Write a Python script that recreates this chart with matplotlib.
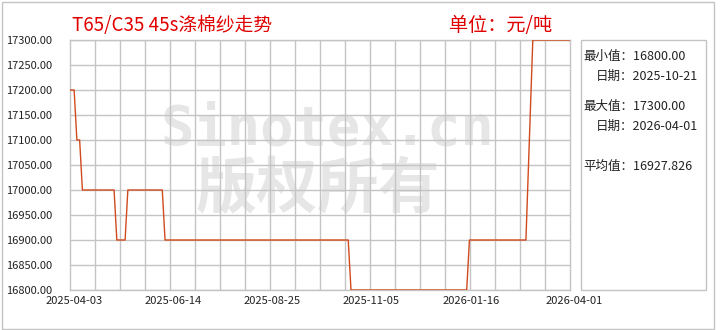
import matplotlib
matplotlib.use("Agg")
import matplotlib.pyplot as plt
import matplotlib.dates as mdates
import matplotlib.transforms as mtransforms
from matplotlib.patches import Rectangle
import numpy as np
import pandas as pd

plt.rcParams['font.family'] = ['Noto Sans CJK SC', 'DejaVu Sans']

# ---- data ----
dates = ["2025-04-03", "2025-04-06", "2025-04-08", "2025-04-10", "2025-04-12",
         "2025-05-05", "2025-05-07", "2025-05-13", "2025-05-15", "2025-06-09",
         "2025-06-11", "2025-10-22", "2025-10-24", "2026-01-16", "2026-01-18",
         "2026-02-28", "2026-03-05", "2026-04-01"]
prices = [17200, 17200, 17100, 17100, 17000,
          17000, 16900, 16900, 17000, 17000,
          16900, 16900, 16800, 16800, 16900,
          16900, 17300, 17300]
tick_dates = ["2025-04-03", "2025-06-14", "2025-08-25", "2025-11-05", "2026-01-16", "2026-04-01"]
y_ticks = [16800, 16850, 16900, 16950, 17000, 17050, 17100, 17150, 17200, 17250, 17300]
title = "T65/C35 45s涤棉纱走势"
unit = "单位：元/吨"
stats_labels = ["最小值：16800.00", "日期：2025-10-21", "最大值：17300.00", "日期：2026-04-01", "平均值：16927.826"]

W, H = 720, 330
fig = plt.figure(figsize=(W / 100, H / 100), dpi=100)
fig.patch.set_facecolor("white")

ax_l, ax_r, ax_t, ax_b = 70, 570, 40, 290
ax = fig.add_axes([ax_l / W, 1 - ax_b / H, (ax_r - ax_l) / W, (ax_b - ax_t) / H])
ax.set_facecolor("white")

x = pd.to_datetime(dates)
ax.plot(x, prices, color="#D04A1C", lw=1.0, zorder=3)

xmin = mdates.date2num(pd.Timestamp(tick_dates[0]))
xmax = mdates.date2num(pd.Timestamp(tick_dates[-1]))
ax.set_xlim(xmin, xmax)
ax.set_ylim(y_ticks[0], y_ticks[-1])

grid_c = "#C4C4C4"
ax.set_yticks(y_ticks)
ax.set_yticklabels([f"{v:.2f}" for v in y_ticks], fontsize=8, color="#222222")
ax.set_xticks([mdates.date2num(pd.Timestamp(d)) for d in tick_dates])
ax.set_xticklabels(tick_dates, fontsize=8, color="#222222")
ax.set_xticks(np.linspace(xmin, xmax, 21), minor=True)
ax.tick_params(axis='both', which='both', length=0)
ax.tick_params(axis='y', pad=13)
ax.tick_params(axis='x', pad=4)
ax.grid(False)
ax.grid(True, which='minor', axis='x', color=grid_c, lw=1.0, zorder=1)
ax.grid(True, which='major', axis='y', color=grid_c, lw=1.0, zorder=1)
ax.set_axisbelow(True)
for s in ax.spines.values():
    s.set_color(grid_c)
    s.set_linewidth(1.0)

offset = mtransforms.ScaledTranslation(4 / 100, 0, fig.dpi_scale_trans)
for lab in ax.get_xticklabels():
    lab.set_transform(lab.get_transform() + offset)

# watermark (below grid)
ax.text((327 - ax_l) / (ax_r - ax_l), 1 - (129 - ax_t) / (ax_b - ax_t), "Sinotex.cn",
        transform=ax.transAxes, fontsize=40, family="DejaVu Sans Mono", weight="bold",
        color="#E6E6E6", ha="center", va="center", zorder=0.5)
ax.text((318 - ax_l) / (ax_r - ax_l), 1 - (190 - ax_t) / (ax_b - ax_t), "版权所有",
        transform=ax.transAxes, fontsize=44, weight="bold",
        color="#E6E6E6", ha="center", va="center", zorder=0.5)

# titles
fig.text(72 / W, 1 - 25 / H, title, fontsize=13.5, color="#E00000", ha="left", va="center")
fig.text(449 / W, 1 - 25 / H, unit, fontsize=13.8, color="#E00000", ha="left", va="center")

# stats box
fig.patches.append(Rectangle((581 / W, 1 - 290 / H), (706 - 581) / W, (290 - 40) / H,
                             transform=fig.transFigure, fill=False, edgecolor=grid_c, lw=1.0))
stat_pos = [(583, 56), (596, 76), (583, 106), (596, 126), (583, 166)]
for (px, py), s in zip(stat_pos, stats_labels):
    fig.text(px / W, 1 - py / H, s, fontsize=9, color="#222222", ha="left", va="center")

# outer border
fig.patches.append(Rectangle((1.5 / W, 1.5 / H), (714 - 1.5) / W, (329 - 2) / H,
                             transform=fig.transFigure, fill=False, edgecolor=grid_c, lw=1.0))

fig.savefig("out.png", dpi=100, facecolor="white")
